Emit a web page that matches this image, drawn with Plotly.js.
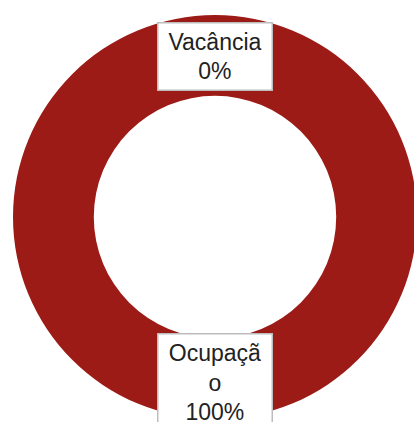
<!DOCTYPE html>
<html>
<head>
<meta charset="utf-8">
<script src="https://cdn.plot.ly/plotly-3.0.1.min.js"></script>
<style>
html,body{margin:0;padding:0;overflow:hidden;background:#fff;}
#chart{width:418px;height:422px;}
</style>
</head>
<body>
<div id="chart"></div>
<script>
var labels = ['Vacância', 'Ocupação'];
var values = [0, 100];
var labelLines = [['Vacância'], ['Ocupaçã', 'o']];
var colors = ['#FFFFFF', '#9D1B17'];

var total = values.reduce(function(a, b){ return a + b; }, 0);
function pct(v){ return Math.round(v / total * 100) + '%'; }

var trace = {
  type: 'pie',
  labels: labels,
  values: values,
  hole: 0.6,
  sort: false,
  direction: 'clockwise',
  rotation: 0,
  textinfo: 'none',
  hoverinfo: 'label+percent',
  marker: {colors: colors, line: {width: 0}},
  showlegend: false
};

var font = {family: 'Liberation Sans, Arial, sans-serif', size: 23, color: '#222222'};
var annotations = [
  {
    xref: 'paper', yref: 'paper', x: 0.5, y: 0.897,
    xanchor: 'center', yanchor: 'middle',
    text: labelLines[0].join('<br>') + '<br>' + pct(values[0]),
    showarrow: false, font: font, align: 'center',
    bgcolor: '#FFFFFF', bordercolor: '#BDBDBD', borderwidth: 1.5, borderpad: 1,
    width: 111, height: 64
  },
  {
    xref: 'paper', yref: 'paper', x: 0.5, y: 0.213,
    xanchor: 'center', yanchor: 'top',
    text: labelLines[1].join('<br>') + '<br>' + pct(values[1]),
    showarrow: false, font: font, align: 'center',
    bgcolor: '#FFFFFF', bordercolor: '#BDBDBD', borderwidth: 1.5, borderpad: 1,
    width: 111, height: 94
  }
];

var layout = {
  width: 418, height: 422,
  margin: {l: 13, r: 1, t: 15, b: 3, pad: 0},
  paper_bgcolor: '#FFFFFF',
  plot_bgcolor: '#FFFFFF',
  annotations: annotations
};

Plotly.newPlot('chart', [trace], layout, {displayModeBar: false, staticPlot: true});
</script>
</body>
</html>
